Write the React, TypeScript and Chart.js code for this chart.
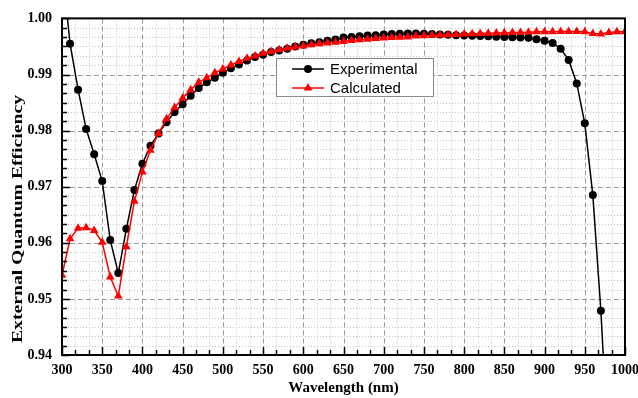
import { useEffect, useRef } from "react";
import { Chart, registerables } from "chart.js";

Chart.register(...registerables);

const EXP_WAVELENGTH = [
  300, 310, 320, 330, 340, 350, 360, 370, 380, 390, 400, 410, 420, 430, 440, 450, 460, 470, 480, 490,
  500, 510, 520, 530, 540, 550, 560, 570, 580, 590, 600, 610, 620, 630, 640, 650, 660, 670, 680, 690,
  700, 710, 720, 730, 740, 750, 760, 770, 780, 790, 800, 810, 820, 830, 840, 850, 860, 870, 880, 890,
  900, 910, 920, 930, 940, 950, 960, 970, 980,
];
const EXPERIMENTAL = [
  1.0094, 0.9955, 0.9873, 0.9803, 0.9758, 0.971, 0.9605, 0.9546, 0.9625, 0.9694, 0.9741, 0.9773, 0.9795, 0.9815, 0.9833, 0.9847, 0.9862, 0.9876, 0.9886, 0.9894,
  0.9903, 0.9911, 0.9918, 0.9925, 0.9931, 0.9935, 0.994, 0.9943, 0.9946, 0.995, 0.9953, 0.99555, 0.99577, 0.996, 0.99625, 0.9966, 0.9967, 0.9968, 0.99695, 0.997,
  0.99715, 0.9972, 0.99725, 0.9973, 0.9973, 0.99725, 0.9972, 0.99715, 0.9971, 0.997, 0.99695, 0.9969, 0.99685, 0.9968, 0.99675, 0.9967, 0.99665, 0.9966, 0.99655, 0.9963,
  0.996, 0.9956, 0.9946, 0.9926, 0.9884, 0.9813, 0.9685, 0.9479, 0.921,
];

const CALC_WAVELENGTH = [
  300, 310, 320, 330, 340, 350, 360, 370, 380, 390, 400, 410, 420, 430, 440, 450, 460, 470, 480, 490,
  500, 510, 520, 530, 540, 550, 560, 570, 580, 590, 600, 610, 620, 630, 640, 650, 660, 670, 680, 690,
  700, 710, 720, 730, 740, 750, 760, 770, 780, 790, 800, 810, 820, 830, 840, 850, 860, 870, 880, 890,
  900, 910, 920, 930, 940, 950, 960, 970, 980, 990, 1000,
];
const CALCULATED = [
  0.9542, 0.9607, 0.9626, 0.9627, 0.9622, 0.9601, 0.9539, 0.9505, 0.9593, 0.9674, 0.9726, 0.9765, 0.9795, 0.9821, 0.9841, 0.9858, 0.9873, 0.9886, 0.9894, 0.9903,
  0.991, 0.9917, 0.9923, 0.9929, 0.9933, 0.9938, 0.9941, 0.9944, 0.9947, 0.9949, 0.9951, 0.9953, 0.9955, 0.9956, 0.99575, 0.9959, 0.99605, 0.9962, 0.9963, 0.9964,
  0.9965, 0.9966, 0.99665, 0.9967, 0.99685, 0.9969, 0.997, 0.99705, 0.9971, 0.99715, 0.9972, 0.99725, 0.9973, 0.99735, 0.9974, 0.99745, 0.9975, 0.9975, 0.99755, 0.9976,
  0.9976, 0.9976, 0.99765, 0.99765, 0.99765, 0.9976, 0.9973, 0.9972, 0.9975, 0.9976, 0.9976,
];

const X_TICKS = [300, 350, 400, 450, 500, 550, 600, 650, 700, 750, 800, 850, 900, 950, 1000];
const Y_TICKS = [0.94, 0.95, 0.96, 0.97, 0.98, 0.99, 1.0];

const SERIES_NAMES = ["Experimental", "Calculated"];
const X_TITLE = "Wavelength (nm)";
const Y_TITLE = "External Quantum Efficiency";

const SERIF = '"Liberation Serif", "Times New Roman", serif';
const SANS = '"Liberation Sans", Arial, sans-serif';

const originPlugin = {
  id: "originDecor",
  beforeDatasetsDraw(chart: any) {
    const { ctx, chartArea: a, scales } = chart;
    const x = scales.x;
    const y = scales.y;
    ctx.save();
    ctx.lineWidth = 1;
    // minor grid (dotted)
    ctx.strokeStyle = "#c4c4c4";
    ctx.setLineDash([1, 2]);
    ctx.beginPath();
    for (let i = 0; i < X_TICKS.length - 1; i++) {
      for (let k = 1; k < 3; k++) {
        const v = X_TICKS[i] + ((X_TICKS[i + 1] - X_TICKS[i]) * k) / 3;
        const px = Math.round(x.getPixelForValue(v)) + 0.5;
        ctx.moveTo(px, a.top);
        ctx.lineTo(px, a.bottom);
      }
    }
    for (let i = 0; i < Y_TICKS.length - 1; i++) {
      for (let k = 1; k < 6; k++) {
        const v = Y_TICKS[i] + ((Y_TICKS[i + 1] - Y_TICKS[i]) * k) / 6;
        const py = Math.round(y.getPixelForValue(v)) + 0.5;
        ctx.moveTo(a.left, py);
        ctx.lineTo(a.right, py);
      }
    }
    ctx.stroke();
    // major grid (dashed)
    ctx.strokeStyle = "#9a9a9a";
    ctx.setLineDash([5, 3]);
    ctx.beginPath();
    for (const v of X_TICKS) {
      const px = Math.round(x.getPixelForValue(v)) + 0.5;
      ctx.moveTo(px, a.top);
      ctx.lineTo(px, a.bottom);
    }
    for (const v of Y_TICKS) {
      const py = Math.round(y.getPixelForValue(v)) + 0.5;
      ctx.moveTo(a.left, py);
      ctx.lineTo(a.right, py);
    }
    ctx.stroke();
    ctx.restore();
  },
  afterDatasetsDraw(chart: any) {
    const { ctx, chartArea: a, scales } = chart;
    const x = scales.x;
    const y = scales.y;
    ctx.save();
    ctx.setLineDash([]);
    ctx.strokeStyle = "#000";
    ctx.lineWidth = 1.5;
    ctx.beginPath();
    // inward ticks on bottom axis
    for (let i = 0; i < X_TICKS.length; i++) {
      const px = Math.round(x.getPixelForValue(X_TICKS[i])) + 0.5;
      ctx.moveTo(px, a.bottom);
      ctx.lineTo(px, a.bottom - 8);
      if (i < X_TICKS.length - 1) {
        for (let k = 1; k < 3; k++) {
          const v = X_TICKS[i] + ((X_TICKS[i + 1] - X_TICKS[i]) * k) / 3;
          const mx = Math.round(x.getPixelForValue(v)) + 0.5;
          ctx.moveTo(mx, a.bottom);
          ctx.lineTo(mx, a.bottom - 5);
        }
      }
    }
    // inward ticks on left axis
    for (let i = 0; i < Y_TICKS.length; i++) {
      const py = Math.round(y.getPixelForValue(Y_TICKS[i])) + 0.5;
      ctx.moveTo(a.left, py);
      ctx.lineTo(a.left + 8, py);
      if (i < Y_TICKS.length - 1) {
        for (let k = 1; k < 6; k++) {
          const v = Y_TICKS[i] + ((Y_TICKS[i + 1] - Y_TICKS[i]) * k) / 6;
          const my = Math.round(y.getPixelForValue(v)) + 0.5;
          ctx.moveTo(a.left, my);
          ctx.lineTo(a.left + 5, my);
        }
      }
    }
    ctx.stroke();
    // frame
    ctx.lineWidth = 2;
    ctx.strokeRect(a.left, a.top, a.right - a.left, a.bottom - a.top);
    ctx.restore();
  },
  afterDraw(chart: any) {
    const { ctx } = chart;
    ctx.save();
    // rotated, stretched y title
    ctx.translate(18, 219);
    ctx.rotate(-Math.PI / 2);
    ctx.font = `bold 15px ${SERIF}`;
    const w = ctx.measureText(Y_TITLE).width;
    ctx.scale(248 / w, 1);
    ctx.fillStyle = "#000";
    ctx.textAlign = "center";
    ctx.textBaseline = "middle";
    ctx.fillText(Y_TITLE, 0, 0);
    ctx.restore();

    // legend box
    const ds = chart.data.datasets;
    const bx = 276.5;
    const by = 58.5;
    const bw = 157;
    const bh = 38;
    ctx.save();
    ctx.fillStyle = "#fff";
    ctx.fillRect(bx, by, bw, bh);
    ctx.strokeStyle = "#8a8a8a";
    ctx.lineWidth = 1;
    ctx.strokeRect(bx, by, bw, bh);
    const rows = [69, 88];
    for (let i = 0; i < 2; i++) {
      const d = ds[i];
      const ry = rows[i];
      ctx.strokeStyle = d.borderColor;
      ctx.fillStyle = d.borderColor;
      ctx.lineWidth = 1.5;
      ctx.beginPath();
      ctx.moveTo(292, ry);
      ctx.lineTo(324, ry);
      ctx.stroke();
      const cx = 308;
      ctx.beginPath();
      if (d.pointStyle === "triangle") {
        const r = 5;
        ctx.moveTo(cx, ry - r);
        ctx.lineTo(cx + r * 0.866, ry + r * 0.5);
        ctx.lineTo(cx - r * 0.866, ry + r * 0.5);
        ctx.closePath();
      } else {
        ctx.arc(cx, ry, 4, 0, Math.PI * 2);
      }
      ctx.fill();
      ctx.fillStyle = "#000";
      ctx.font = `15px ${SANS}`;
      ctx.textAlign = "left";
      ctx.textBaseline = "middle";
      ctx.fillText(d.label, 330, ry + 1);
    }
    ctx.restore();
  },
};

export default function App() {
  const ref = useRef<HTMLCanvasElement | null>(null);

  useEffect(() => {
    if (!ref.current) return;
    const chart = new Chart(ref.current, {
      type: "line",
      data: {
        datasets: [
          {
            label: SERIES_NAMES[0],
            data: EXP_WAVELENGTH.map((w, i) => ({ x: w, y: EXPERIMENTAL[i] })),
            borderColor: "#000000",
            backgroundColor: "#000000",
            borderWidth: 1.5,
            pointStyle: "circle",
            pointRadius: 4,
            pointBorderWidth: 0,
            tension: 0,
            order: 1,
          },
          {
            label: SERIES_NAMES[1],
            data: CALC_WAVELENGTH.map((w, i) => ({ x: w, y: CALCULATED[i] })),
            borderColor: "#ff0000",
            backgroundColor: "#ff0000",
            borderWidth: 1.5,
            pointStyle: "triangle",
            pointRadius: 5,
            pointBorderWidth: 0,
            tension: 0,
            order: 0,
          },
        ],
      },
      plugins: [originPlugin],
      options: {
        animation: false,
        responsive: true,
        maintainAspectRatio: false,
        layout: { padding: { top: 13, right: 13, left: 0, bottom: 0 } },
        plugins: {
          legend: { display: false },
          tooltip: { enabled: false },
        },
        scales: {
          x: {
            type: "linear",
            min: 300,
            max: 1000,
            afterBuildTicks: (s: any) => {
              s.ticks = X_TICKS.map((value) => ({ value }));
            },
            afterFit: (s: any) => {
              s.height = 43;
              s.paddingLeft = 0;
              s.paddingRight = 0;
            },
            grid: { display: false, drawTicks: false, tickLength: 0 },
            border: { display: false },
            ticks: {
              color: "#000",
              padding: 7,
              maxRotation: 0,
              autoSkip: false,
              font: { family: SERIF, size: 14, weight: "bold" },
              callback: (v: any) => String(v),
            },
            title: {
              display: true,
              text: X_TITLE,
              color: "#000",
              padding: { top: 0, bottom: 1 },
              font: { family: SERIF, size: 15, weight: "bold" },
            },
          },
          y: {
            type: "linear",
            min: 0.94,
            max: 1.0,
            afterBuildTicks: (s: any) => {
              s.ticks = Y_TICKS.map((value) => ({ value }));
            },
            afterFit: (s: any) => {
              s.width = 62;
            },
            grid: { display: false, drawTicks: false, tickLength: 0 },
            border: { display: false },
            ticks: {
              color: "#000",
              padding: 10,
              autoSkip: false,
              font: { family: SERIF, size: 14, weight: "bold" },
              callback: (v: any) => Number(v).toFixed(2),
            },
          },
        },
      },
    } as any);
    return () => chart.destroy();
  }, []);

  return (
    <div
      style={{
        position: "fixed",
        left: 0,
        top: 0,
        width: 638,
        height: 398,
        background: "#fff",
      }}
    >
      <canvas ref={ref} />
    </div>
  );
}
